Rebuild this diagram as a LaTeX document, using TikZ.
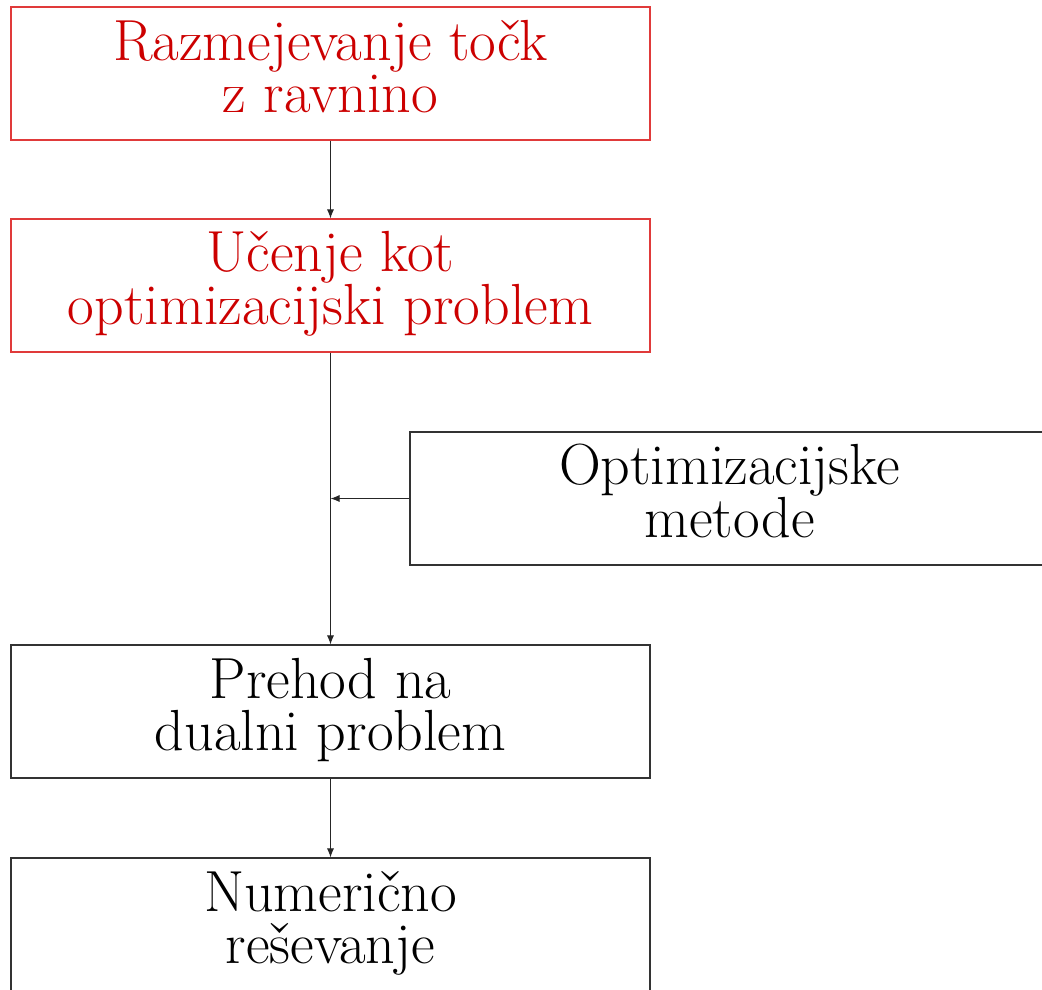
\documentclass[tikz,border=0pt]{standalone}
\usetikzlibrary{arrows.meta}
\definecolor{boxred}{HTML}{E03A3A}
\definecolor{textred}{HTML}{CC0000}
\definecolor{boxgray}{HTML}{333333}
\newcommand\twolines[2]{\rule{0pt}{40pt}#1\\#2\rule[-15pt]{0pt}{15pt}}
\begin{document}
\begin{tikzpicture}[x=1pt,y=-1pt,
  stage/.style={draw=boxgray,line width=1.1pt,minimum width=639pt,minimum height=133pt,
    inner sep=0pt,align=center,font=\fontsize{58}{52}\selectfont},
  redstage/.style={stage,draw=boxred,text=textred},
  flow/.style={draw=black!85,line width=1pt,-{Latex[length=9pt,width=7pt]}}]
\useasboundingbox (0,0) rectangle (1042,989);
\clip (0,0) rectangle (1042,989);
\fill[white] (0,0) rectangle (1042,989);
\node[redstage] (a) at (330.5,73.5) {\twolines{Razmejevanje točk}{z ravnino}};
\node[redstage] (b) at (330.5,285.5) {\twolines{Učenje kot}{optimizacijski problem}};
\node[stage] (m) at (729.5,498.5) {\twolines{Optimizacijske}{metode}};
\node[stage] (c) at (330.5,711.5) {\twolines{Prehod na}{dualni problem}};
\node[stage] (d) at (330.5,924.5) {\twolines{Numerično}{reševanje}};
\coordinate (j) at (330.5,498.5);
\draw[flow] (a) -- (b);
\draw[flow] (b) -- (c);
\draw[flow] (m) -- (j);
\draw[flow] (c) -- (d);
\end{tikzpicture}
\end{document}
